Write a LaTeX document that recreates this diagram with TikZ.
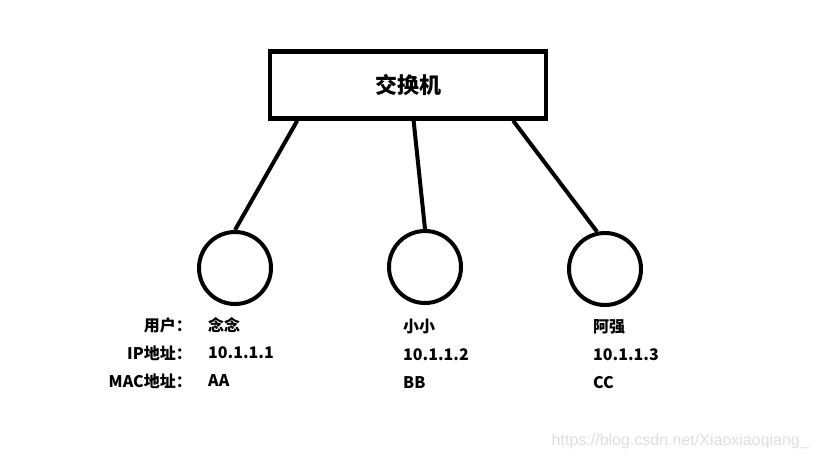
\documentclass[tikz,border=0pt]{standalone}
\usepackage{fontspec}
\setmainfont{Noto Sans CJK SC}
\newfontfamily\urlfont{Liberation Sans}
\usetikzlibrary{calc}

\begin{document}
\begin{tikzpicture}[x=1pt,y=-1pt,
  box/.style={draw,line width=4.5pt,minimum width=276pt,minimum height=67pt,
    font=\bfseries\fontsize{22}{22}\selectfont},
  host/.style={draw,circle,line width=4pt,minimum size=72pt},
  link/.style={line width=4pt},
  key/.style={anchor=east,inner sep=0pt,font=\bfseries\fontsize{16}{16}\selectfont},
  val/.style={anchor=west,inner sep=0pt,font=\bfseries\fontsize{16}{16}\selectfont}]
\useasboundingbox (0,0) rectangle (819,460);
\node[box] (switch) at (408,85) {交换机};
\node[host] (nian) at (235,268) {};
\node[host] (xiao) at (425,267) {};
\node[host] (qiang) at (605,269) {};
\draw[link] ($(switch.south west)!0.105!(switch.south east)$) -- (nian.north);
\draw[link] ($(switch.south west)!0.52!(switch.south east)$) -- (xiao.north);
\draw[link] ($(switch.south west)!0.875!(switch.south east)$) -- (qiang.102);
% row labels
\node[key] (user) at (192,325) {用户：};
\node[key] (ip) at (192,353) {IP地址：};
\node[key] (mac) at (192,381) {MAC地址：};
\foreach \name/\x/\dy/\who/\addr/\hw in {nian/208/0/念念/10.1.1.1/AA,
  xiao/403/2/小小/10.1.1.2/BB, qiang/593/2/阿强/10.1.1.3/CC}{
  \node[val] (\name-user) at (\x,325+\dy) {\who};
  \node[val] (\name-ip) at (\x,353+\dy) {\addr};
  \node[val] (\name-mac) at (\x,381+\dy) {\hw};
}
\node[anchor=east,inner sep=0pt,text=black!13,font=\urlfont\fontsize{16}{16}\selectfont]
  (url) at (809,441) {https://blog.csdn.net/Xiaoxiaoqiang\_};
\end{tikzpicture}
\end{document}
